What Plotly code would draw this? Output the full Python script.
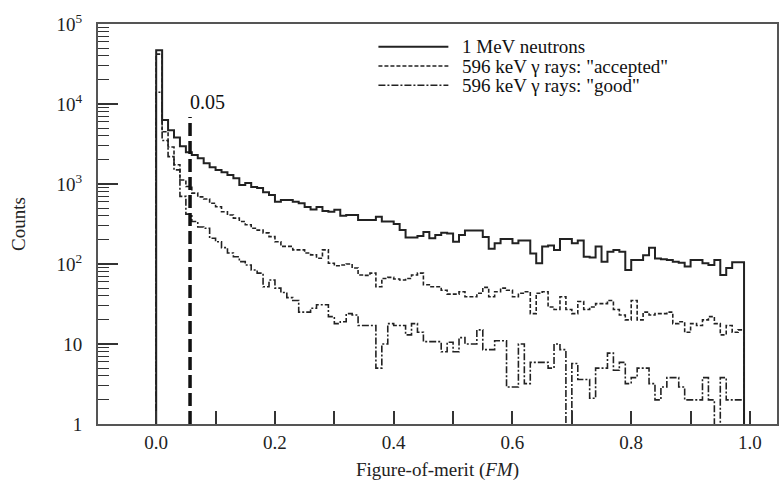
import numpy as np
import plotly.graph_objects as go

# ---- data (counts per 0.01-wide FM bin, starting at FM = 0) ----
BIN_WIDTH = 0.01
neutrons_1MeV = [47000, 6300, 4700, 3800, 2970, 2500, 2300, 2100, 1820, 1620,
                 1500, 1400, 1300, 1180, 970, 1030, 920, 890, 790, 730,
                 600, 630, 630, 600, 575, 515, 480, 515, 460, 450,
                 475, 400, 410, 410, 355, 355, 355, 390, 340, 340,
                 316, 266, 215, 215, 224, 252, 210, 230, 245, 240,
                 190, 230, 263, 263, 263, 218, 155, 182, 205, 205,
                 182, 196, 196, 135, 102, 166, 170, 150, 205, 205,
                 182, 196, 123, 121, 166, 107, 142, 150, 142, 84,
                 112, 112, 129, 160, 117, 115, 112, 107, 104, 93,
                 112, 112, 102, 97, 112, 73, 89, 105, 105]
gamma_accepted = [42000, 4500, 2900, 1740, 1120, 930, 770, 690, 650, 575,
                  520, 450, 410, 375, 340, 310, 280, 265, 245, 220,
                  190, 166, 166, 150, 150, 137, 130, 118, 150, 102,
                  95, 97, 100, 89, 73, 72, 77, 52, 66, 68,
                  65, 63, 66, 73, 77, 55, 52, 52, 47, 42,
                  42, 45, 39, 39, 43, 51, 39, 45, 50, 47,
                  39, 43, 45, 24, 43, 45, 29, 27, 39, 27,
                  24, 34, 27, 29, 32, 32, 35, 27, 23, 20,
                  35, 20, 25, 23, 24, 24, 25, 18, 19, 14,
                  18, 17, 20, 22, 18, 13, 17, 14, 15]
gamma_good = [14000, 3500, 2200, 1500, 700, 420, 340, 290, 280, 210,
              190, 160, 137, 123, 107, 97, 84, 77, 52, 63,
              50, 44, 38, 35, 25, 25, 28, 31, 31, 22,
              18, 19, 24, 23, 17, 17, 17, 5, 10, 18,
              17, 17, 13, 18, 14, 10.7, 10.7, 10.7, 8, 10.5,
              8, 12, 10, 10, 15, 8.5, 8.5, 11, 11, 2.9,
              2.9, 10, 3.2, 5.9, 5.9, 5.9, 5, 10, 8.5, 0.5,
              5.7, 3.6, 3.6, 2.1, 5, 5, 7.7, 4.7, 5.9, 3.2,
              3.8, 5, 5, 3.2, 2.0, 2.9, 3.8, 3.8, 2.9, 2.0,
              2.0, 2.0, 3.8, 2.0, 0.5, 3.8, 2.0, 2.0, 2.0]
series_names = ["1 MeV neutrons", '596 keV \u03b3 rays: "accepted"', '596 keV \u03b3 rays: "good"']
FM_CUT = 0.057
FM_CUT_LABEL = "0.05"
CUT_TOP = 6900
y_tickvals = [1, 10, 100, 1000, 10000, 100000]
y_ticktext = ["1", "10", "10<sup>2</sup>", "10<sup>3</sup>", "10<sup>4</sup>", "10<sup>5</sup>"]
x_tickvals = [0.0, 0.2, 0.4, 0.6, 0.8, 1.0]
x_ticktext = ["0.0", "0.2", "0.4", "0.6", "0.8", "1.0"]

FONT = "Liberation Serif, Times New Roman, serif"
INK = "#222222"
styles = [dict(color=INK, width=2, dash="solid"),
          dict(color=INK, width=1.6, dash="4px,2px"),
          dict(color=INK, width=1.6, dash="7px,2px,2px,2px")]


def step_xy(counts):
    n = len(counts)
    edges = [round(i * BIN_WIDTH, 4) for i in range(n + 1)]
    xs = [edges[0]] + edges
    ys = [0.05] + list(counts) + [0.05]
    return xs, ys


fig = go.Figure()
for counts, name, st in zip([neutrons_1MeV, gamma_accepted, gamma_good], series_names, styles):
    xs, ys = step_xy(counts)
    fig.add_trace(go.Scatter(x=xs, y=ys, mode="lines", line_shape="hv",
                             line=st, name=name, showlegend=False))

# FM cut line
fig.add_trace(go.Scatter(x=[FM_CUT, FM_CUT], y=[1, CUT_TOP], mode="lines",
                         line=dict(color="#111111", width=3.5, dash="13px,5px"),
                         showlegend=False, hoverinfo="skip"))
fig.add_annotation(x=FM_CUT - 0.004, y=4.02, xref="x", yref="y", text=FM_CUT_LABEL,
                   showarrow=False, xanchor="left", yanchor="middle",
                   font=dict(family=FONT, size=20, color="#111111"))

# manual legend (long line samples like the original)
leg_y = [0.943, 0.895, 0.847]
for name, st, yy in zip(series_names, styles, leg_y):
    fig.add_shape(type="line", xref="x domain", yref="y domain",
                  x0=0.413, x1=0.516, y0=yy, y1=yy,
                  line=dict(color=st["color"], width=st["width"], dash=st["dash"]))
    fig.add_annotation(x=0.533, y=yy, xref="x domain", yref="y domain", text=name,
                       showarrow=False, xanchor="left", yanchor="middle",
                       font=dict(family=FONT, size=19, color="#111111"))

minor_y = [m * 10 ** d for d in range(0, 5) for m in range(2, 10)]

fig.update_xaxes(range=[-0.098, 1.0455], tickvals=x_tickvals, ticktext=x_ticktext,
                 ticks="inside", ticklen=13, tickwidth=1.5, tickcolor="#333",
                 minor=dict(tickvals=[0.1, 0.3, 0.5, 0.7, 0.9], ticks="inside",
                            ticklen=13, tickwidth=1.5, tickcolor="#333", showgrid=False),
                 showline=True, linewidth=2, linecolor="#555", mirror=True,
                 showgrid=False, zeroline=False, automargin=False,
                 tickfont=dict(family=FONT, size=19, color="#222"),
                 title=dict(text="Figure-of-merit (<i>FM</i>)",
                            font=dict(family=FONT, size=19, color="#222"), standoff=11))
fig.update_yaxes(type="log", range=[0, 5], tickvals=y_tickvals, ticktext=y_ticktext,
                 ticks="inside", ticklen=20, tickwidth=1.5, tickcolor="#333",
                 ticklabelstandoff=10,
                 minor=dict(tickvals=minor_y, ticks="inside", ticklen=11,
                            tickwidth=1.2, tickcolor="#333", showgrid=False),
                 showline=True, linewidth=2, linecolor="#555", mirror=True,
                 showgrid=False, zeroline=False, automargin=False,
                 tickfont=dict(family=FONT, size=19, color="#222"),
                 title=dict(text="Counts", font=dict(family=FONT, size=19, color="#222"),
                            standoff=26))

fig.update_layout(width=779, height=484, margin=dict(l=98, r=2, t=24, b=60),
                  paper_bgcolor="white", plot_bgcolor="white", showlegend=False)

fig.write_html("out.html", config={"displayModeBar": False},
               post_script="document.body.style.margin='0px';")
